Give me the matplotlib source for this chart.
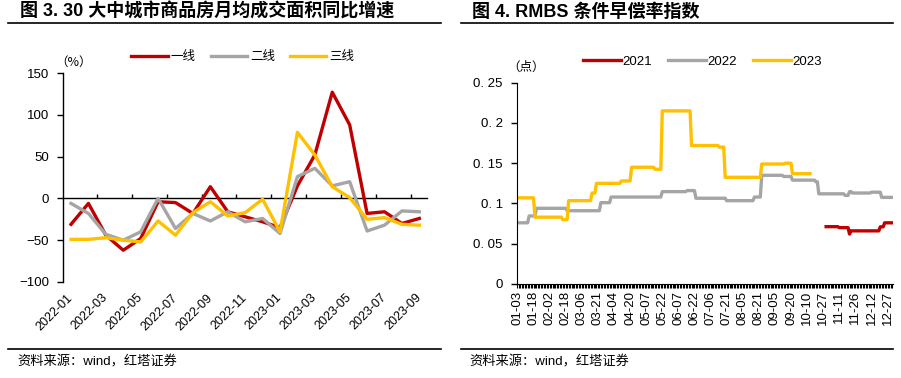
import matplotlib
matplotlib.use('Agg')
import matplotlib.pyplot as plt
from matplotlib.lines import Line2D
import numpy as np
import pandas as pd

plt.rcParams['font.family'] = ['Liberation Sans', 'Noto Sans CJK SC']
plt.rcParams['axes.unicode_minus'] = True

RED = '#C00000'
GREY = '#A5A5A5'
GOLD = '#FFC000'
CJK = ['Noto Sans CJK SC', 'Liberation Sans']

# ---- 图3：30大中城市商品房月均成交面积同比增速（%） ----
months = ['2022-01', '2022-02', '2022-03', '2022-04', '2022-05', '2022-06', '2022-07',
          '2022-08', '2022-09', '2022-10', '2022-11', '2022-12', '2023-01', '2023-02',
          '2023-03', '2023-04', '2023-05', '2023-06', '2023-07', '2023-08', '2023-09']
tier1 = [-31, -6, -44, -62, -48, -4, -5, -18, 14, -16, -22, -28, -35, 15, 52, 127, 88,
         -18, -16, -30, -24]
tier2 = [-6, -18, -43, -50, -40, 0, -36, -18, -27, -16, -28, -24, -42, 26, 36, 15, 20,
         -39, -32, -15, -16]
tier3 = [-49, -49, -47, -50, -52, -27, -44, -17, -4, -21, -17, -1, -40, 79, 52, 14, 1,
         -25, -23, -31, -32]

# ---- 图4：RMBS条件早偿率指数（点），阶梯式变化的拐点 ----
label_days = ['01-03', '01-18', '02-02', '02-18', '03-06', '03-21', '04-04', '04-20',
              '05-07', '05-22', '06-07', '06-22', '07-06', '07-21', '08-05', '08-21',
              '09-05', '09-20', '10-10', '10-27', '11-11', '11-26', '12-12', '12-27']
tail_days = ['12-28', '12-29', '12-30']
per_label = 11

cpr21_days = ['10-29', '11-11', '11-20', '11-22', '12-20', '12-24']
cpr21_vals = [0.0712, 0.070, 0.062, 0.066, 0.071, 0.076]

cpr22_days = ['01-03', '01-14', '01-21', '02-20', '03-24', '04-02', '05-22', '06-15',
              '06-23', '07-21', '08-16', '08-24', '09-13', '09-22', '10-20', '10-22',
              '11-17', '11-21', '11-24', '12-12', '12-21']
cpr22_vals = [0.076, 0.0845, 0.094, 0.091, 0.101, 0.108, 0.1147, 0.116,
              0.1065, 0.1035, 0.108, 0.135, 0.1335, 0.129, 0.127, 0.112,
              0.110, 0.1147, 0.113, 0.114, 0.1076]

cpr23_days = ['01-03', '01-19', '02-16', '02-21', '03-15', '03-20', '04-12', '04-21',
              '05-15', '05-22', '06-20', '07-14', '07-20', '08-23', '09-14', '09-21',
              '10-14']
cpr23_vals = [0.107, 0.083, 0.080, 0.1035, 0.113, 0.125, 0.128, 0.145,
              0.1425, 0.215, 0.172, 0.170, 0.1325, 0.149, 0.150, 0.137,
              np.nan]

yr = '2022-'
cat_dates = []
for a, b in zip(label_days[:-1], label_days[1:]):
    span = pd.date_range(yr + a, yr + b, inclusive='left')
    pick = np.linspace(0, len(span) - 1, per_label).round().astype(int)
    cat_dates.extend(span[pick])
cat_dates.extend(pd.to_datetime([yr + d for d in [label_days[-1]] + tail_days]))
cat_dates = pd.DatetimeIndex(cat_dates)


def step_series(days, vals):
    s = pd.Series(vals, index=pd.to_datetime([yr + d for d in days]))
    return s.reindex(cat_dates, method='ffill').values


fig = plt.figure(figsize=(9.01, 3.78), dpi=100)
W, H = 901, 378


def fx(px):
    return px / W


def fy(py):
    return 1 - py / H


# 标题、分隔线和资料来源
for x0, x1, tx, title in [(8, 441, 20, '图 3. 30 大中城市商品房月均成交面积同比增速'),
                          (461, 893, 472, '图 4. RMBS 条件早偿率指数')]:
    fig.text(fx(tx), fy(12), title, fontsize=13, fontweight='bold', va='center', ha='left')
    for yy in (23, 349):
        fig.add_artist(Line2D([fx(x0), fx(x1)], [fy(yy), fy(yy)], color='black', lw=1.2,
                              transform=fig.transFigure))
    fig.text(fx(tx - 3), fy(362), '资料来源：wind，红塔证券', fontsize=9.5, va='center',
             ha='left')

# ---- 左图 ----
ax1 = fig.add_axes([fx(63), fy(282), fx(427 - 63), (282 - 73) / H])
x = np.arange(len(months))
ax1.plot(x, tier1, color=RED, lw=2.4, label='一线')
ax1.plot(x, tier2, color=GREY, lw=2.4, label='二线')
ax1.plot(x, tier3, color=GOLD, lw=2.4, label='三线')
ax1.set_xlim(-0.46, len(months) - 0.56)
ax1.set_ylim(-100, 150)
ax1.set_yticks(np.arange(-100, 151, 50))
ax1.set_xticks(x[::2])
ax1.set_xticklabels(months[::2], rotation=45, ha='right', va='center',
                    rotation_mode='anchor')
ax1.tick_params(axis='x', length=0, pad=10, labelsize=9)
ax1.tick_params(axis='y', direction='out', length=4, width=1, labelsize=9.5, pad=6)
for s in ('top', 'right', 'bottom'):
    ax1.spines[s].set_visible(False)
ax1.spines['left'].set_linewidth(1)
zero_ax = ax1.secondary_xaxis(100 / 250)
zero_ax.set_xticks(np.arange(1.5, len(months), 2))
zero_ax.tick_params(direction='in', length=3, width=1, labelbottom=False, labeltop=False)
zero_ax.spines['bottom'].set_linewidth(1)
ax1.legend(loc='center', bbox_to_anchor=(0.494, 1.077), ncol=3, frameon=False,
           fontsize=9, handlelength=2.9, handletextpad=0.25, columnspacing=1.2)
fig.text(fx(55), fy(62), '（%）', fontsize=9, va='center', ha='left', family=CJK)

# ---- 右图 ----
ax2 = fig.add_axes([fx(516.7), fy(284), fx(892.7 - 516.7), (284 - 82.7) / H])
xi = np.arange(len(cat_dates))
ax2.plot(xi, step_series(cpr21_days, cpr21_vals), color=RED, lw=2.4, label='2021')
ax2.plot(xi, step_series(cpr22_days, cpr22_vals), color=GREY, lw=2.4, label='2022')
ax2.plot(xi, step_series(cpr23_days, cpr23_vals), color=GOLD, lw=2.4, label='2023')
ax2.set_xlim(-0.5, len(cat_dates) - 0.5)
ax2.set_ylim(0, 0.25)
ax2.set_yticks(np.arange(0, 0.251, 0.05))
ax2.set_yticklabels(['0', '0. 05', '0. 1', '0. 15', '0. 2', '0. 25'])
ax2.set_xticks(xi[::per_label][:len(label_days)])
ax2.set_xticklabels(label_days, rotation=90, ha='center', va='top')
ax2.set_xticks(xi, minor=True)
ax2.tick_params(axis='x', which='both', direction='out', length=3, width=0.8,
                labelsize=9.5, pad=2)
ax2.tick_params(axis='y', direction='out', length=4, width=1, labelsize=9.5, pad=6)
for s in ('top', 'right'):
    ax2.spines[s].set_visible(False)
ax2.legend(loc='center', bbox_to_anchor=(0.493, 1.103), ncol=3, frameon=False,
           fontsize=9.5, handlelength=2.9, handletextpad=0.1, columnspacing=1.2)
fig.text(fx(507), fy(67), '（点）', fontsize=9, va='center', ha='left', family=CJK)

fig.savefig('out.png', dpi=100)
